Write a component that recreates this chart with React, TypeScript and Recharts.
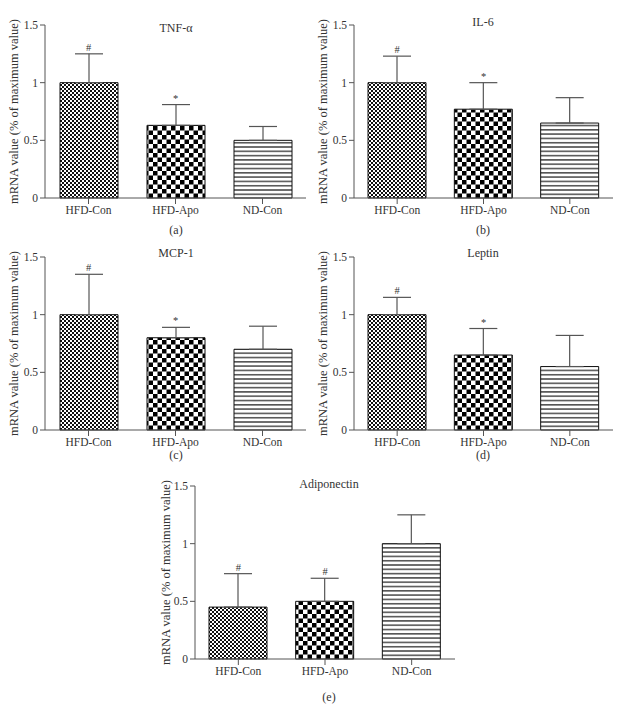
import React from "react";
import { ComposedChart, Bar, Line, XAxis, YAxis, ErrorBar, Cell, LabelList } from "recharts";

const categories = ["HFD-Con", "HFD-Apo", "ND-Con"];
const yTicks = [0, 0.5, 1, 1.5];

const tnfMean = [1.0, 0.63, 0.5];
const tnfErr = [0.25, 0.18, 0.12];
const tnfMarks = ["#", "*", ""];

const il6Mean = [1.0, 0.77, 0.65];
const il6Err = [0.23, 0.23, 0.22];
const il6Marks = ["#", "*", ""];

const mcpMean = [1.0, 0.8, 0.7];
const mcpErr = [0.35, 0.09, 0.2];
const mcpMarks = ["#", "*", ""];

const leptinMean = [1.0, 0.65, 0.55];
const leptinErr = [0.15, 0.23, 0.27];
const leptinMarks = ["#", "*", ""];

const adipoMean = [0.45, 0.5, 1.0];
const adipoErr = [0.29, 0.2, 0.25];
const adipoMarks = ["#", "#", ""];

const FONT = '"Liberation Serif", "DejaVu Serif", serif';
const AXIS = "#555";
const TEXT = "#333";

function buildRows(mean: number[], err: number[], marks: string[]) {
  return categories.map((c, i) => ({
    name: c,
    value: mean[i],
    err: [0, err[i]],
    top: mean[i] + err[i],
    mark: marks[i],
  }));
}

type PanelProps = {
  id: string;
  title: string;
  caption: string;
  mean: number[];
  err: number[];
  marks: string[];
  left: number;
  top: number;
  rightMargin: number;
  labelOffset: number;
  titleX: number;
  titleY: number;
  captionY: number;
};

const W = 320;
const H = 238;

function Panel(p: PanelProps) {
  const data = buildRows(p.mean, p.err, p.marks);
  const fills = [`url(#fine-${p.id})`, `url(#coarse-${p.id})`, `url(#lines-${p.id})`];
  const textStyle = {
    position: "absolute" as const,
    textAlign: "center" as const,
    fontFamily: FONT,
    fontSize: 12,
    color: TEXT,
    lineHeight: "12px",
  };
  return (
    <div style={{ position: "absolute", left: p.left, top: p.top, width: W, height: H }}>
      <ComposedChart
        width={W}
        height={H}
        data={data}
        margin={{ top: 25, right: p.rightMargin, bottom: 0, left: 0 }}
      >
        <defs>
          <pattern id={`fine-${p.id}`} width="4" height="4" patternUnits="userSpaceOnUse">
            <rect width="4" height="4" fill="#fff" />
            <rect x="0" y="0" width="2" height="2" fill="#111" />
            <rect x="2" y="2" width="2" height="2" fill="#111" />
          </pattern>
          <pattern id={`coarse-${p.id}`} width="9" height="9" patternUnits="userSpaceOnUse">
            <rect width="9" height="9" fill="#fff" />
            <rect x="0" y="0" width="4.5" height="4.5" fill="#000" />
            <rect x="4.5" y="4.5" width="4.5" height="4.5" fill="#000" />
          </pattern>
          <pattern id={`lines-${p.id}`} width="8" height="4.3" patternUnits="userSpaceOnUse">
            <rect width="8" height="4.3" fill="#fff" />
            <rect x="0" y="0" width="8" height="1.6" fill="#555" />
          </pattern>
        </defs>
        <XAxis
          dataKey="name"
          height={40}
          tickSize={6}
          stroke={AXIS}
          tick={{ fill: TEXT, fontSize: 11.5, fontFamily: FONT }}
          tickLine={{ stroke: AXIS }}
          axisLine={{ stroke: AXIS }}
        />
        <YAxis
          width={45}
          domain={[0, 1.5]}
          ticks={yTicks}
          interval={0}
          tickSize={5}
          stroke={AXIS}
          tick={{ fill: TEXT, fontSize: 11.5, fontFamily: FONT }}
          label={{
            value: "mRNA value (% of maximum value)",
            angle: -90,
            position: "insideLeft",
            offset: p.labelOffset,
            style: { textAnchor: "middle", fill: TEXT, fontSize: 12.5, fontFamily: FONT },
          }}
        />
        <Bar dataKey="value" barSize={58} stroke="#111" strokeWidth={1} isAnimationActive={false}>
          {data.map((_, i) => (
            <Cell key={i} fill={fills[i]} />
          ))}
          <ErrorBar dataKey="err" width={14} stroke={AXIS} strokeWidth={1.2} direction="y" />
        </Bar>
        <Line dataKey="top" stroke="none" dot={false} activeDot={false} isAnimationActive={false}>
          <LabelList
            dataKey="mark"
            position="top"
            offset={3}
            style={{ fill: TEXT, fontSize: 10.5, fontFamily: FONT }}
          />
        </Line>
      </ComposedChart>
      <div style={{ ...textStyle, left: p.titleX - 60, width: 120, top: p.titleY - 6 }}>{p.title}</div>
      <div style={{ ...textStyle, left: p.titleX - 30, width: 60, top: p.captionY - 6 }}>{p.caption}</div>
    </div>
  );
}

export default function App() {
  return (
    <div style={{ position: "absolute", left: 0, top: 0, width: 643, height: 705, background: "#fff", overflow: "hidden" }}>
      <Panel id="a" title="TNF-α" caption="(a)" mean={tnfMean} err={tnfErr} marks={tnfMarks}
        left={0} top={0} rightMargin={14} labelOffset={14} titleX={176} titleY={28} captionY={230} />
      <Panel id="b" title="IL-6" caption="(b)" mean={il6Mean} err={il6Err} marks={il6Marks}
        left={309} top={0} rightMargin={16} labelOffset={14} titleX={174} titleY={22} captionY={230} />
      <Panel id="c" title="MCP-1" caption="(c)" mean={mcpMean} err={mcpErr} marks={mcpMarks}
        left={0} top={232} rightMargin={14} labelOffset={14} titleX={176} titleY={21} captionY={223} />
      <Panel id="d" title="Leptin" caption="(d)" mean={leptinMean} err={leptinErr} marks={leptinMarks}
        left={309} top={232} rightMargin={16} labelOffset={14} titleX={174} titleY={21} captionY={223} />
      <Panel id="e" title="Adiponectin" caption="(e)" mean={adipoMean} err={adipoErr} marks={adipoMarks}
        left={150} top={461} rightMargin={15} labelOffset={16} titleX={179} titleY={23} captionY={236} />
    </div>
  );
}
